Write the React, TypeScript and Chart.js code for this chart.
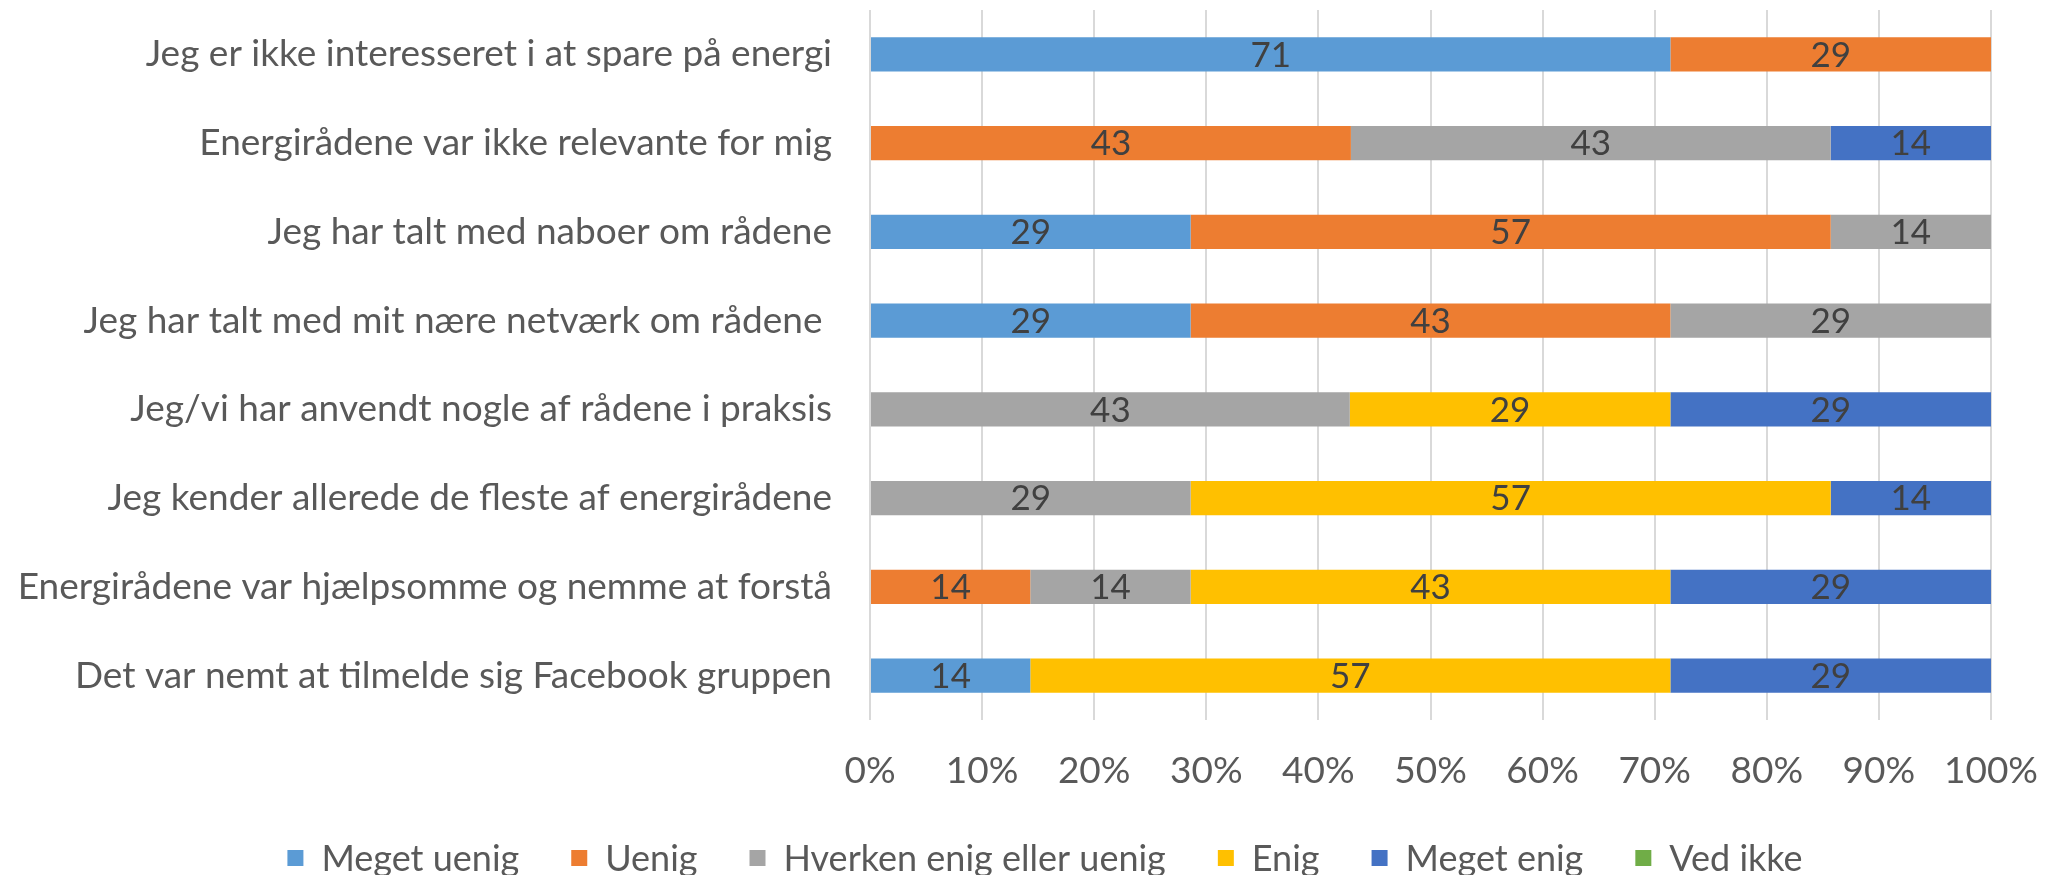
import React, { useEffect, useRef } from "react";
import { Chart, registerables } from "chart.js";

Chart.register(...registerables);

const categories = [
  "Jeg er ikke interesseret i at spare på energi",
  "Energirådene var ikke relevante for mig",
  "Jeg har talt med naboer om rådene",
  "Jeg har talt med mit nære netværk om rådene ",
  "Jeg/vi har anvendt nogle af rådene i praksis",
  "Jeg kender allerede de fleste af energirådene",
  "Energirådene var hjælpsomme og nemme at forstå",
  "Det var nemt at tilmelde sig Facebook gruppen",
];

const seriesNames = ["Meget uenig", "Uenig", "Hverken enig eller uenig", "Enig", "Meget enig", "Ved ikke"];
const seriesColors = ["#5B9BD5", "#ED7D31", "#A5A5A5", "#FFC000", "#4472C4", "#70AD47"];

const megetUenig = [71.4, 0, 28.6, 28.6, 0, 0, 0, 14.3];
const uenig = [28.6, 42.9, 57.1, 42.8, 0, 0, 14.3, 0];
const hverken = [0, 42.8, 14.3, 28.6, 42.8, 28.6, 14.3, 0];
const enig = [0, 0, 0, 0, 28.6, 57.1, 42.8, 57.1];
const megetEnig = [0, 14.3, 0, 0, 28.6, 14.3, 28.6, 28.6];
const vedIkke = [0, 0, 0, 0, 0, 0, 0, 0];

const xTicks = [0, 10, 20, 30, 40, 50, 60, 70, 80, 90, 100];

const FONT = "Lato, 'Liberation Sans', sans-serif";
const TEXT = "#595959";

const dataLabelPlugin = {
  id: "dataLabels",
  afterDatasetsDraw(chart: any) {
    const ctx = chart.ctx;
    ctx.save();
    ctx.font = `35px ${FONT}`;
    ctx.fillStyle = "#404040";
    ctx.textAlign = "center";
    ctx.textBaseline = "middle";
    chart.data.datasets.forEach((ds: any, di: number) => {
      const meta = chart.getDatasetMeta(di);
      meta.data.forEach((bar: any, i: number) => {
        const v = ds.data[i];
        if (!v) return;
        const cx = (bar.x + bar.base) / 2;
        ctx.fillText(String(Math.round(v)), cx, bar.y + 1);
      });
    });
    ctx.restore();
  },
};

const legendPlugin = {
  id: "customLegend",
  afterDraw(chart: any) {
    const ctx = chart.ctx;
    ctx.save();
    ctx.font = `36px ${FONT}`;
    ctx.textBaseline = "middle";
    const box = 16;
    const gapBoxText = 18;
    const gapItems = 52;
    const items = chart.data.datasets.map((ds: any) => ({
      label: ds.label,
      color: ds.backgroundColor,
      w: ctx.measureText(ds.label).width,
    }));
    let total = 0;
    items.forEach((it: any, i: number) => {
      total += box + gapBoxText + it.w + (i < items.length - 1 ? gapItems : 0);
    });
    let x = 1045 - total / 2;
    const y = 858;
    items.forEach((it: any) => {
      ctx.fillStyle = it.color;
      ctx.fillRect(x, y - box / 2, box, box);
      x += box + gapBoxText;
      ctx.fillStyle = TEXT;
      ctx.textAlign = "left";
      ctx.fillText(it.label, x, y + 1);
      x += it.w + gapItems;
    });
    ctx.restore();
  },
};

export default function App() {
  const ref = useRef<HTMLCanvasElement>(null);
  useEffect(() => {
    if (!ref.current) return;
    const values = [megetUenig, uenig, hverken, enig, megetEnig, vedIkke];
    const chart = new Chart(ref.current, {
      type: "bar",
      data: {
        labels: categories,
        datasets: seriesNames.map((name, i) => ({
          label: name,
          data: values[i],
          backgroundColor: seriesColors[i],
          borderWidth: 0,
          categoryPercentage: 1,
          barPercentage: 0.385,
        })),
      },
      options: {
        indexAxis: "y",
        animation: false,
        responsive: false,
        maintainAspectRatio: false,
        layout: { padding: { top: 10, right: 56, left: 0, bottom: 0 } },
        plugins: {
          legend: { display: false },
          tooltip: { enabled: false },
        },
        scales: {
          x: {
            stacked: true,
            min: 0,
            max: 100,
            afterBuildTicks(scale: any) {
              scale.ticks = xTicks.map((v) => ({ value: v }));
            },
            afterFit(scale: any) {
              scale.height = 155;
              scale.paddingLeft = 0;
              scale.paddingRight = 0;
            },
            grid: { color: "#D9D9D9", lineWidth: 2, drawTicks: false },
            border: { display: false },
            ticks: {
              color: TEXT,
              font: { family: FONT, size: 37 },
              padding: 29,
              maxRotation: 0,
              autoSkip: false,
              callback: (v: any) => `${v}%`,
            },
          },
          y: {
            stacked: true,
            afterFit(scale: any) {
              scale.width = 870;
              scale.paddingTop = 0;
              scale.paddingBottom = 0;
            },
            grid: { display: false, drawTicks: false },
            border: { display: false },
            ticks: {
              color: TEXT,
              font: { family: FONT, size: 37 },
              padding: 38,
              autoSkip: false,
            },
          },
        },
      },
      plugins: [dataLabelPlugin, legendPlugin],
    });
    return () => chart.destroy();
  }, []);
  return (
    <div style={{ position: "absolute", left: 0, top: 0, width: 2047, height: 875, background: "#fff" }}>
      <canvas ref={ref} width={2047} height={875} style={{ width: 2047, height: 875 }} />
    </div>
  );
}
